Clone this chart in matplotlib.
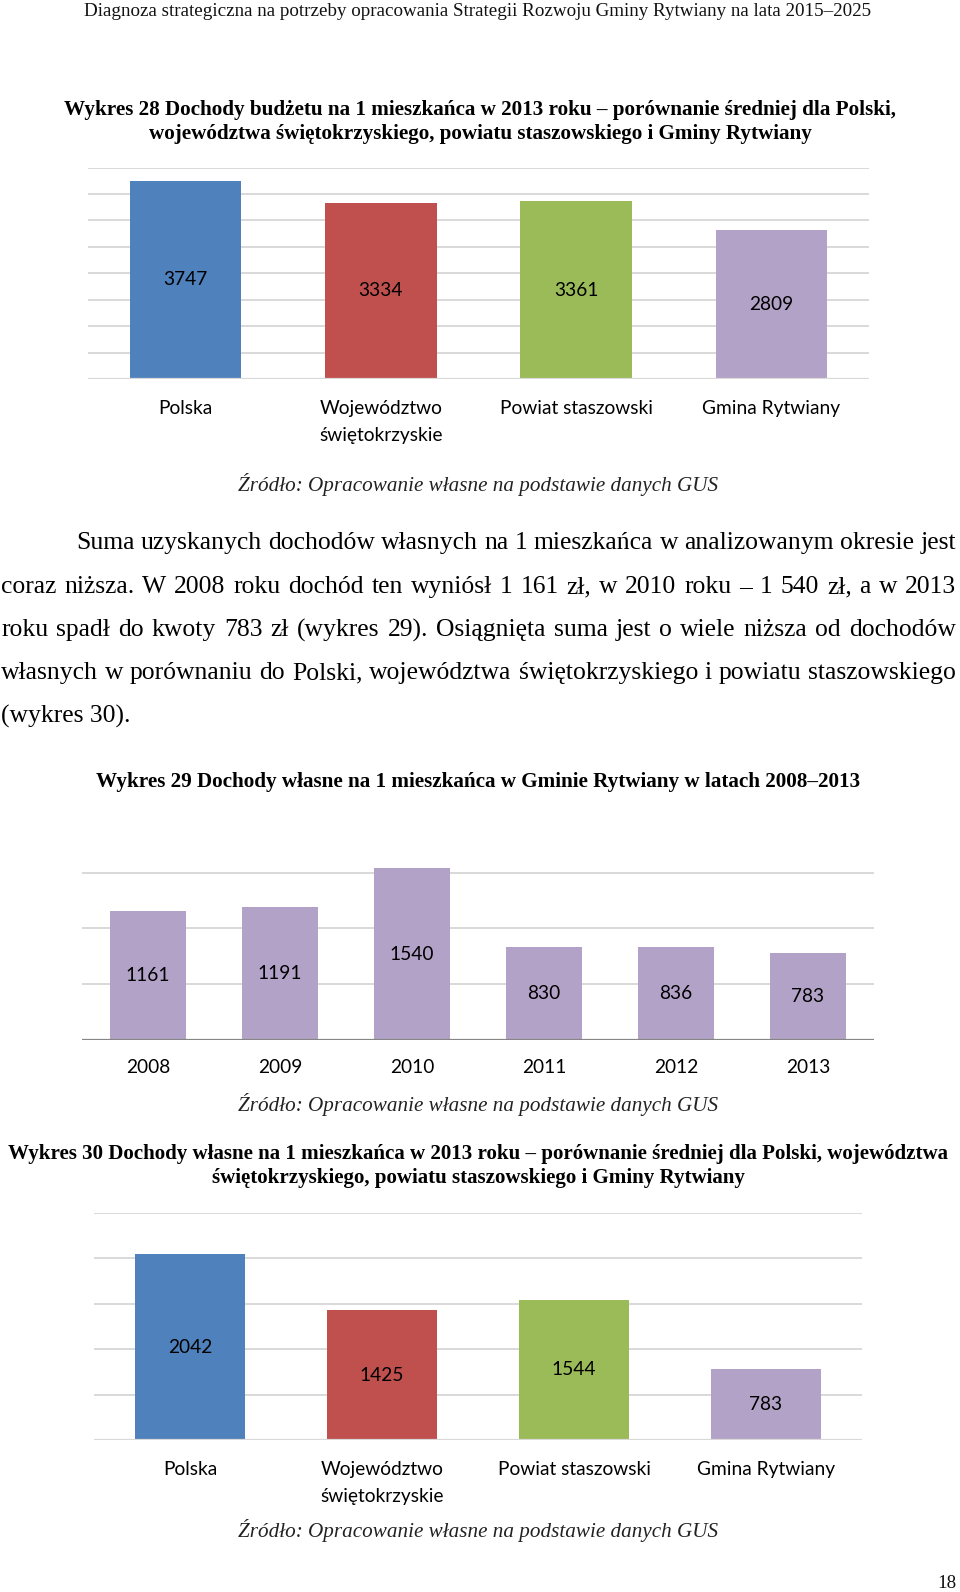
import matplotlib
matplotlib.use("Agg")
import matplotlib.pyplot as plt

# ---------------- data ----------------
header = "Diagnoza strategiczna na potrzeby opracowania Strategii Rozwoju Gminy Rytwiany na lata 2015\u20132025"

title28 = ["Wykres 28 Dochody budżetu na 1 mieszkańca w 2013 roku \u2013 porównanie średniej dla Polski,",
           "województwa świętokrzyskiego, powiatu staszowskiego i Gminy Rytwiany"]
cats28 = ["Polska", "Województwo\nświętokrzyskie", "Powiat staszowski", "Gmina Rytwiany"]
vals28 = [3747, 3334, 3361, 2809]

source = "Źródło: Opracowanie własne na podstawie danych GUS"

paragraph = [
    "Suma uzyskanych dochodów własnych na 1 mieszkańca w analizowanym okresie jest",
    "coraz niższa. W 2008 roku dochód ten wyniósł 1 161 zł, w 2010 roku \u2013 1 540 zł, a w 2013",
    "roku spadł do kwoty 783 zł (wykres 29). Osiągnięta suma jest o wiele niższa od dochodów",
    "własnych w porównaniu do Polski, województwa świętokrzyskiego i powiatu staszowskiego",
    "(wykres 30).",
]

title29 = "Wykres 29 Dochody własne na 1 mieszkańca w Gminie Rytwiany w latach 2008\u20132013"
years29 = ["2008", "2009", "2010", "2011", "2012", "2013"]
vals29 = [1161, 1191, 1540, 830, 836, 783]

title30 = ["Wykres 30 Dochody własne na 1 mieszkańca w 2013 roku \u2013 porównanie średniej dla Polski, województwa",
           "świętokrzyskiego, powiatu staszowskiego i Gminy Rytwiany"]
cats30 = ["Polska", "Województwo\nświętokrzyskie", "Powiat staszowski", "Gmina Rytwiany"]
vals30 = [2042, 1425, 1544, 783]

page_no = "18"

# ---------------- style ----------------
BLUE, RED, GREEN, PURPLE = "#4F81BD", "#C0504D", "#9BBB59", "#B3A2C7"
GRID = "#D9D9D9"
SERIF = "Liberation Serif"
SANS = "Lato"

W, H, DPI = 960, 1592, 100
fig = plt.figure(figsize=(W / DPI, H / DPI), dpi=DPI)
fig.patch.set_facecolor("white")
renderer = fig.canvas.get_renderer()


def text_width(s, size, **kw):
    t = fig.text(0, 0, s, fontsize=size, **kw)
    w = t.get_window_extent(renderer).width
    t.remove()
    return w


def fit_size(s, target, **kw):
    return 10.0 * target / text_width(s, 10.0, **kw)


def ftext(xc, y, s, size, ha="center", **kw):
    fig.text(xc / W, 1 - y / H, s, fontsize=size, ha=ha, va="center", **kw)


# header
hs = fit_size(header, 790, family=SERIF)
ftext(478, 12, header, hs, family=SERIF, color="#111111")

# titles
t_bold = dict(family=SERIF, weight="bold")
ts = fit_size(title28[0], 834, **t_bold)
ftext(480, 110, title28[0], ts, **t_bold)
ftext(480, 134, title28[1], ts, **t_bold)

# source size
ss = fit_size(source, 481, family=SERIF, style="italic")

# label font size
ls = fit_size("Powiat staszowski", 153, family=SANS)


def bar_chart(left, right, y0, ytop, vtop, vmax, cats, vals, colors, base_color, lab_off):
    height_px = (y0 - ytop) * vmax / vtop
    ax = fig.add_axes([left / W, 1 - y0 / H, (right - left) / W, height_px / H])
    x = list(range(len(vals)))
    ax.bar(x, vals, width=0.57, color=colors, zorder=3)
    ax.set_xlim(-0.5, len(vals) - 0.5)
    ax.set_ylim(0, vmax)
    step = 500
    ticks = [v for v in range(0, vtop + 1, step)]
    for v in ticks[1:]:
        ax.axhline(v, color=GRID, lw=1.4, zorder=1)
    ax.axhline(0, color=base_color, lw=1.6, zorder=4)
    for s in ax.spines.values():
        s.set_visible(False)
    ax.set_yticks([])
    ax.set_xticks(x)
    ax.set_xticklabels(cats, fontsize=ls, family=SANS, linespacing=1.7)
    ax.tick_params(axis="x", length=0, pad=lab_off)
    for xi, v in zip(x, vals):
        ax.text(xi, v / 2, str(v), ha="center", va="center", fontsize=ls, family=SANS, color="black", zorder=5)
    ax.set_facecolor("none")
    return ax


# chart 28
bar_chart(88, 869, 379, 167.5, 4000, 4000, cats28, vals28, [BLUE, RED, GREEN, PURPLE], GRID, 15)
ftext(478, 485, source, ss, family=SERIF, style="italic", color="#222222")

# paragraph
ps = fit_size(paragraph[-1], 129, family=SERIF)
ys = [543, 587, 630, 673, 716]
starts = [76, 1, 1, 1, 1]
for i, (line, y, x0) in enumerate(zip(paragraph, ys, starts)):
    if i == len(paragraph) - 1:
        ftext(x0, y, line, ps, ha="left", family=SERIF)
        continue
    words = line.split(" ")
    widths = [text_width(w_, ps, family=SERIF) for w_ in words]
    gap = (956 - x0 - sum(widths)) / (len(words) - 1)
    xx = x0
    for w_, wd in zip(words, widths):
        ftext(xx, y, w_, ps, ha="left", family=SERIF)
        xx += wd + gap

# chart 29
t2 = fit_size(title29, 766, **t_bold)
ftext(478.5, 782, title29, t2, **t_bold)
bar_chart(82, 874, 1040, 872.7, 1500, 1700, years29, vals29, [PURPLE] * 6, "#868686", 14)
ftext(478, 1104, source, ss, family=SERIF, style="italic", color="#222222")

# chart 30
t3 = fit_size(title30[0], 947, **t_bold)
ftext(478.5, 1154, title30[0], t3, **t_bold)
ftext(478, 1178, title30[1], t3, **t_bold)
bar_chart(94, 862, 1440, 1212.7, 2500, 2500, cats30, vals30, [BLUE, RED, GREEN, PURPLE], GRID, 15)
ftext(478, 1530, source, ss, family=SERIF, style="italic", color="#222222")

# page number
ftext(956, 1583, page_no, hs, ha="right", family=SERIF, color="#111111")

fig.savefig("out.png", dpi=DPI, facecolor="white")
